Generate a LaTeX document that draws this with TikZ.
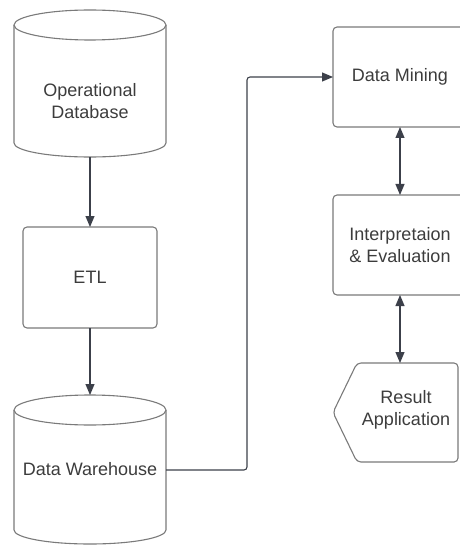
\documentclass[tikz,border=0pt]{standalone}
\usepackage{fontspec}
\setmainfont{Liberation Sans}
\usetikzlibrary{arrows.meta,calc}
\definecolor{edge}{HTML}{7A7A7A}
\definecolor{wire}{HTML}{3C404A}
\definecolor{ink}{HTML}{3C3C3C}

\begin{document}
\begin{tikzpicture}[x=1pt,y=-1pt,
  shapeline/.style={draw=edge, line width=1.1pt},
  frame/.style={draw=none, inner sep=0pt, outer sep=0pt},
  box/.style={shapeline, rounded corners=4pt, inner sep=0pt, outer sep=0pt,
              minimum width=134pt, minimum height=100pt},
  txt/.style={text=ink, font=\fontsize{18}{22}\selectfont, align=center, inner sep=0pt},
  link/.style={draw=wire, line width=1.1pt, -{Triangle[length=11pt,width=9pt]}},
  both/.style={draw=wire, line width=1.1pt,
               {Triangle[length=11pt,width=9pt]}-{Triangle[length=11pt,width=9pt]}}
]
\useasboundingbox (0,0) rectangle (459,545);

% ---- Operational Database (cylinder) ----
\node[frame, minimum width=152pt, minimum height=147pt] (opdb) at (90,83.5) {};
\draw[shapeline] (14,25) -- (14,143) arc[start angle=180, end angle=0, x radius=76, y radius=14] -- (166,25);
\draw[shapeline] (90,25) ellipse[x radius=76, y radius=15];
\node[txt] (opdbtext) at (90,101) {Operational\\Database};

% ---- ETL ----
\node[box, txt, minimum width=134pt, minimum height=101pt] (etl) at (90,277.5) {ETL};

% ---- Data Warehouse (cylinder) ----
\node[frame, minimum width=152pt, minimum height=150pt] (dw) at (90,470) {};
\draw[shapeline] (14,410) -- (14,530) arc[start angle=180, end angle=0, x radius=76, y radius=14] -- (166,410);
\draw[shapeline] (90,410) ellipse[x radius=76, y radius=15];
\node[txt] (dwtext) at (90,469) {Data Warehouse};

% ---- right column ----
\node[box, txt] (dm) at (400,77) {Data Mining};
\node[box, txt] (interp) at (400,245) {Interpretaion\\\& Evaluation};

% Result Application (display shape)
\node[frame, minimum width=125pt, minimum height=99pt] (result) at (395.5,412.5) {};
\draw[shapeline, rounded corners=4pt] (333,412.5) -- (357,363) -- (458,363) -- (458,462) -- (357,462) -- cycle;
\node[txt] (resulttext) at (406,410) {Result\\Application};

% ---- connectors ----
\draw[link] (opdb.south) -- (etl.north);
\draw[link] (etl.south) -- (dw.north);
\coordinate (bend) at (247,77);
\draw[link, rounded corners=3pt] (dw.east) -| (bend) -- (dm.west);
\draw[both] (dm.south) -- (interp.north);
\draw[both] (interp.south) -- (interp.south |- result.north);
\end{tikzpicture}
\end{document}
